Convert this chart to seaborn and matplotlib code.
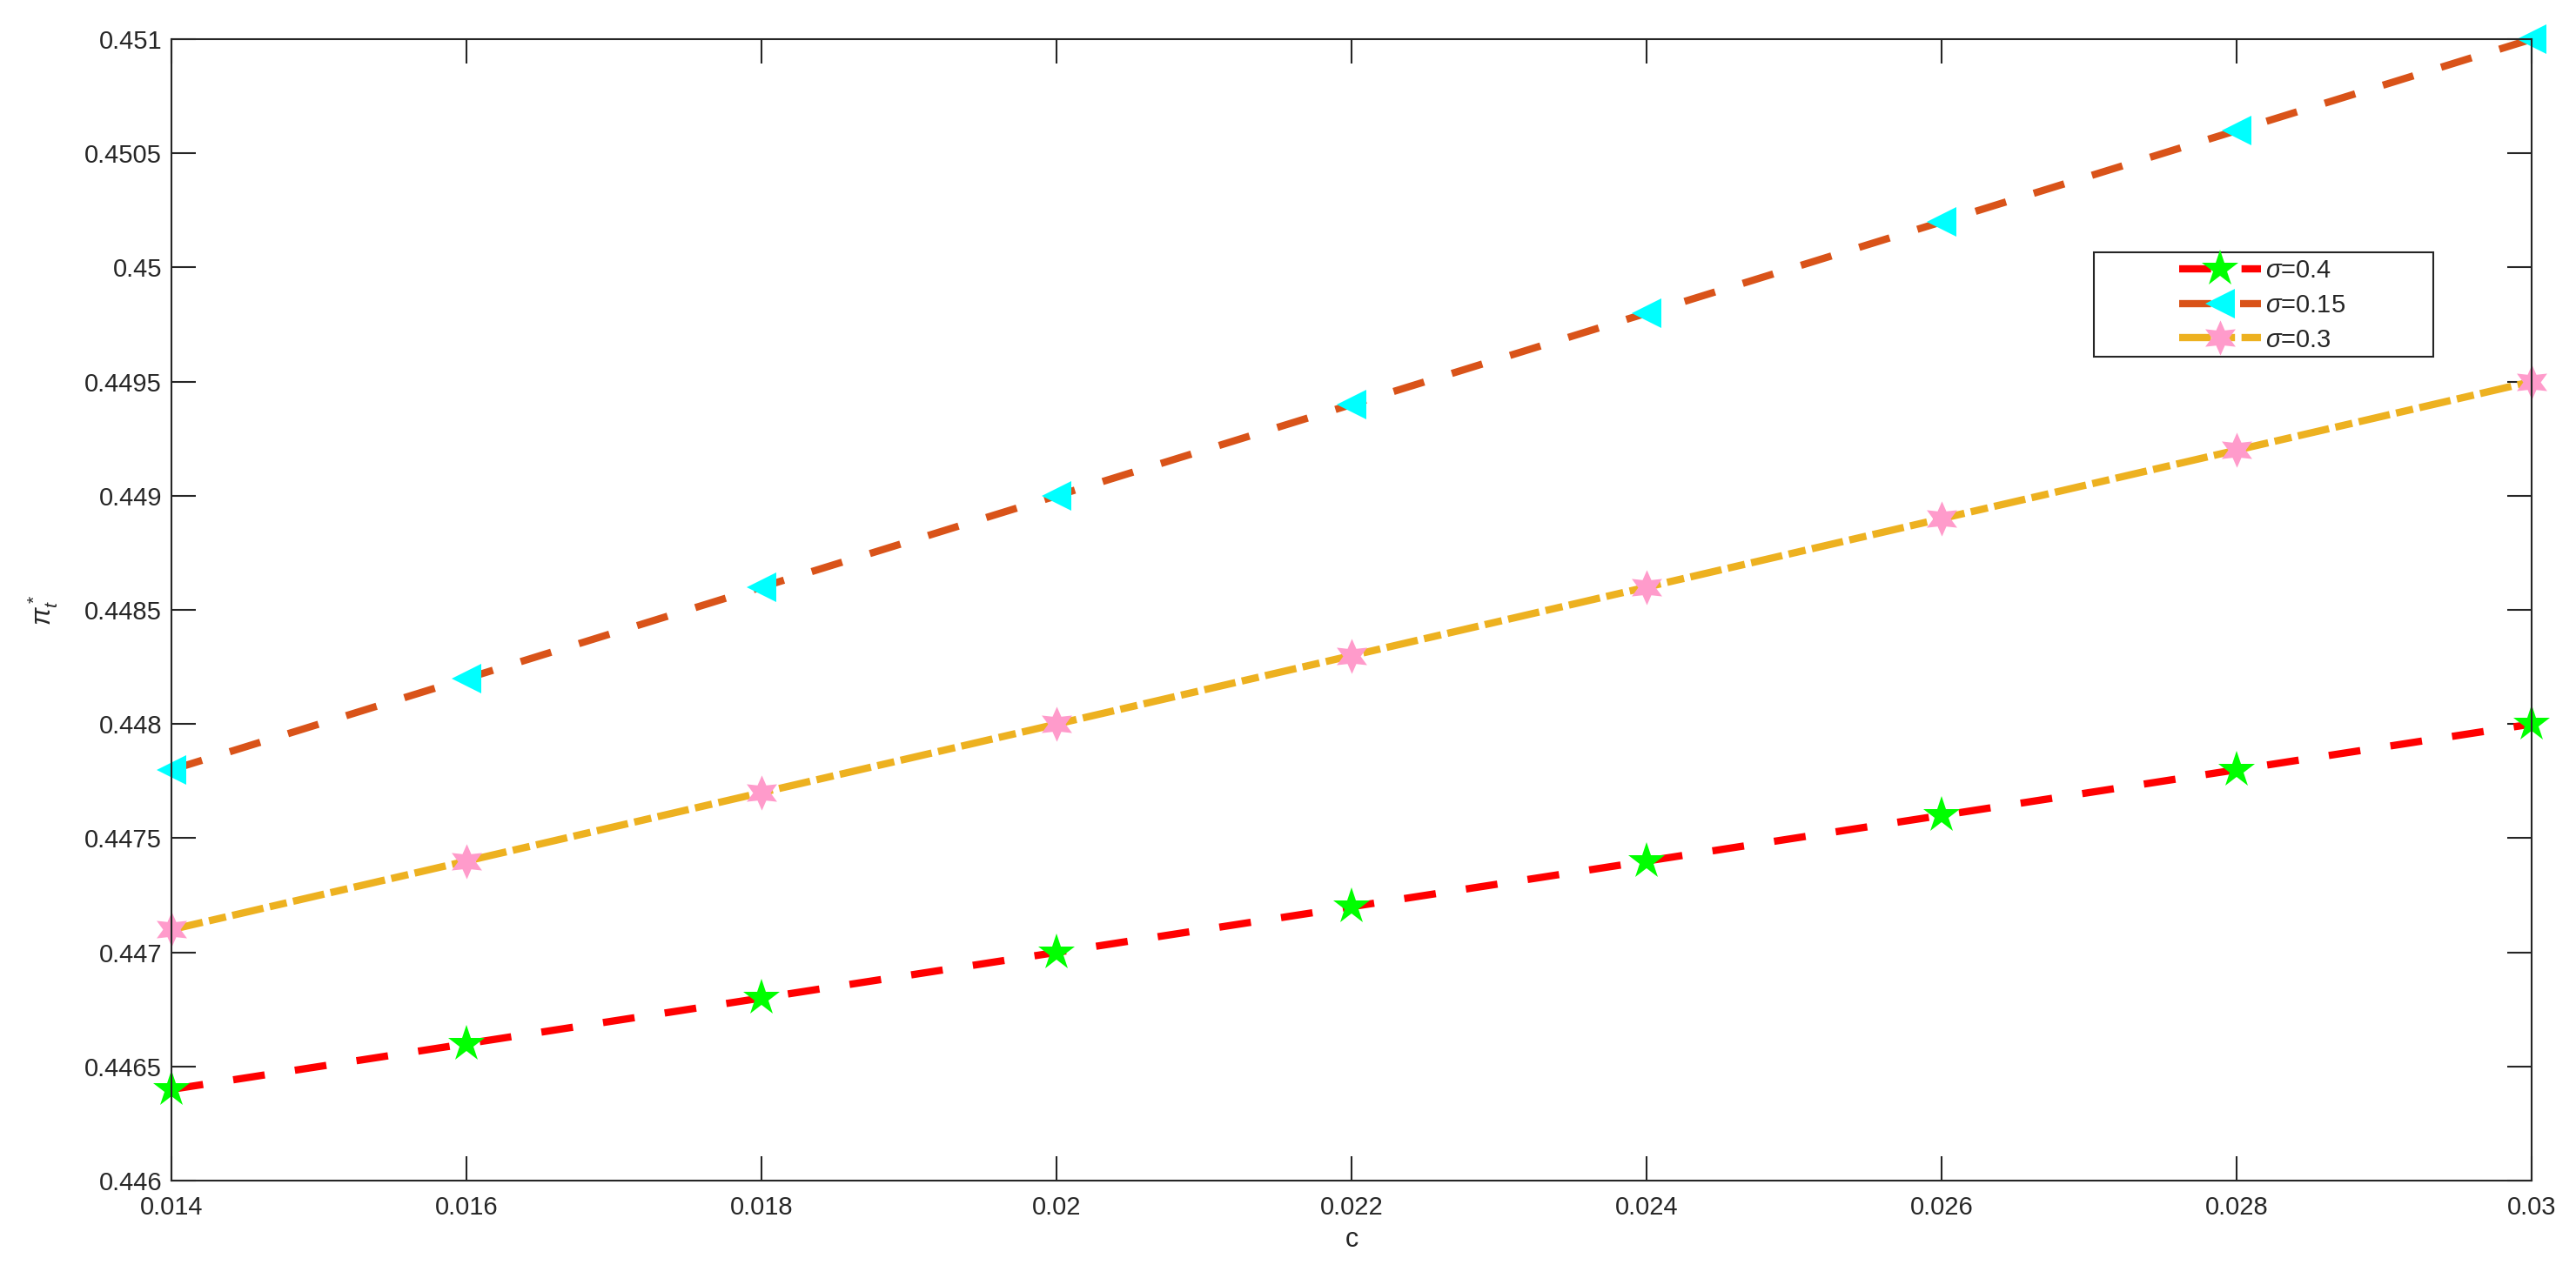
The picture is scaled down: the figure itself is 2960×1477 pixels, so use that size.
import numpy as np
import pandas as pd
import matplotlib
matplotlib.use('Agg')
import matplotlib.pyplot as plt
from matplotlib.patches import Rectangle
from matplotlib.ticker import FixedLocator, FuncFormatter
import seaborn as sns

# dati
c_values = [0.014, 0.016, 0.018, 0.020, 0.022, 0.024, 0.026, 0.028, 0.030]
pi_sigma_04 = [0.4464, 0.4466, 0.4468, 0.4470, 0.4472, 0.4474, 0.4476, 0.4478, 0.4480]
pi_sigma_015 = [0.4478, 0.4482, 0.4486, 0.4490, 0.4494, 0.4498, 0.4502, 0.4506, 0.4510]
pi_sigma_03 = [0.4471, 0.4474, 0.4477, 0.4480, 0.4483, 0.4486, 0.4489, 0.4492, 0.4495]
series_labels = [r'$\sigma$=0.4', r'$\sigma$=0.15', r'$\sigma$=0.3']

x_ticks = [0.014, 0.016, 0.018, 0.020, 0.022, 0.024, 0.026, 0.028, 0.030]
y_ticks = [0.446, 0.4465, 0.447, 0.4475, 0.448, 0.4485, 0.449, 0.4495, 0.450, 0.4505, 0.451]

sns.set_style("white")
plt.rcParams['font.family'] = ['Liberation Sans', 'DejaVu Sans']
plt.rcParams['mathtext.fontset'] = 'custom'
plt.rcParams['mathtext.rm'] = 'Liberation Sans'
plt.rcParams['mathtext.it'] = 'Liberation Sans:italic'

dark = '#262626'

df = pd.DataFrame({
    'c': c_values * 3,
    'pi': pi_sigma_04 + pi_sigma_015 + pi_sigma_03,
    'sigma': [series_labels[0]] * 9 + [series_labels[1]] * 9 + [series_labels[2]] * 9,
})

fig = plt.figure(figsize=(14.8, 7.385), dpi=200)
ax = fig.add_axes([0.0666, 0.0812, 0.9162, 0.8883])

# stili delle tre curve (colore linea, marker, colore marker, tratteggio, dimensione)
styles = [
    ('#FF0000', '*', '#00FF00', (0, (4.4, 4.2)), 16),
    ('#D95319', '<', '#00FFFF', (0, (4.4, 4.0)), 12),
    ('#EDB120', (6, 1, 0), '#FF9BCB', (0, (4.4, 0.9, 2.4, 0.9)), 14.5),
]

handles = []
for lab, (lc, mk, mc, ls, ms) in zip(series_labels, styles):
    sub = df[df['sigma'] == lab]
    sns.lineplot(data=sub, x='c', y='pi', ax=ax, color=lc, linewidth=3,
                 linestyle=ls, marker=mk, markersize=ms, markerfacecolor=mc,
                 markeredgecolor=mc, markeredgewidth=0, label=lab,
                 clip_on=False, legend=False)
    handles.append(ax.lines[-1])

ax.set_xlim(0.014, 0.030)
ax.set_ylim(0.446, 0.451)
ax.xaxis.set_major_locator(FixedLocator(x_ticks))
ax.yaxis.set_major_locator(FixedLocator(y_ticks))
fmt = FuncFormatter(lambda v, p: '%g' % round(v, 6))
ax.xaxis.set_major_formatter(fmt)
ax.yaxis.set_major_formatter(fmt)

ax.tick_params(axis='both', which='major', direction='in', length=10, width=0.75,
               colors=dark, labelsize=10.5, top=True, right=True, bottom=True, left=True)
ax.tick_params(axis='x', pad=6)
ax.tick_params(axis='y', pad=4)
for sp in ax.spines.values():
    sp.set_visible(True)
    sp.set_color(dark)
    sp.set_linewidth(0.75)

ax.set_xlabel('c', fontsize=11, color=dark, labelpad=3)
ax.set_ylabel(r'$\pi_t^*$', fontsize=11, color=dark, labelpad=10)

# riquadro della legenda come in MATLAB
ax.add_patch(Rectangle((0.8145, 0.722), 0.1437, 0.0915, transform=ax.transAxes,
                       facecolor='white', edgecolor=dark, linewidth=0.75, zorder=5))
leg = ax.legend(handles, series_labels, loc='center', bbox_to_anchor=(0.886, 0.7668),
                frameon=False, fontsize=10.5, handlelength=3.2, handletextpad=0.2,
                labelspacing=0.4, borderpad=0.1)
leg.set_zorder(6)

fig.savefig('out.png', dpi=200)
plt.close(fig)
